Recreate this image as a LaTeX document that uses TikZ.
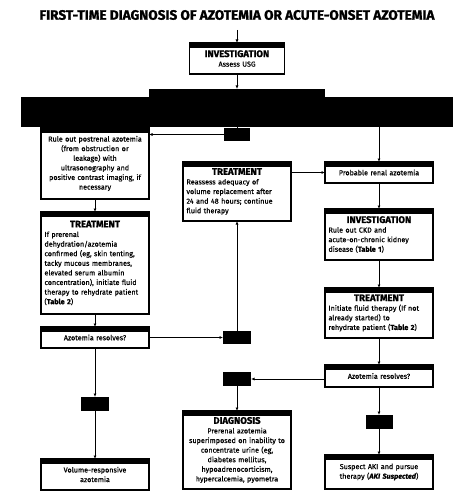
\documentclass[tikz,border=0pt]{standalone}
\usepackage{fontspec}
\setmainfont{Fira Sans}[FakeBold=0.6, BoldFeatures={FakeBold=1.2}]
\usepackage{tikz}
\usetikzlibrary{arrows.meta, positioning}

\newcommand{\boxhead}[1]{{\centering\fontsize{9.5}{11.5}\selectfont\bfseries #1\par}}

\begin{document}
\begin{tikzpicture}[
    x=1pt, y=-1pt,
    node distance=13pt,
    box/.style={rectangle, draw=black, line width=1.1pt, fill=white, outer sep=0pt, inner sep=3pt, text width=101pt, minimum width=108pt, align=center, font=\fontsize{7.2}{9.6}\selectfont,
        path picture={\fill[black] (path picture bounding box.north west) rectangle ([yshift=-5pt]path picture bounding box.north east);}},
    lbox/.style={box, align=left},
    gate/.style={rectangle, fill=black, inner sep=0pt, outer sep=0pt, minimum width=27pt, minimum height=13.5pt},
    bar/.style={rectangle, fill=black, inner sep=0pt, outer sep=0pt},
    arrow/.style={-{Latex[length=3.5pt,width=3pt]}, line width=0.9pt},
    link/.style={line width=0.9pt}
]
    \useasboundingbox (0,0) rectangle (474,497);

    % Title and top
    \node[font=\fontsize{13.6}{15}\selectfont\bfseries] (title) at (237,15) {FIRST-TIME DIAGNOSIS OF AZOTEMIA OR ACUTE-ONSET AZOTEMIA};
    \coordinate (start) at (237,30);
    \node[box, minimum width=95pt, text width=88pt, minimum height=31pt] (inv) at (237,58.5) {\boxhead{INVESTIGATION}Assess USG};
    \node[bar, minimum width=176pt, minimum height=8pt] (bartop) at (237,93) {};
    \node[bar, minimum width=432pt, minimum height=30pt] (bar) at (237,112) {};
    \node[gate, minimum width=26pt] (gatetop) at (237,134.5) {};

    % Left column
    \node[box, minimum height=71pt] (ruleout) at (95,163.5) {Rule out postrenal azotemia\\(from obstruction or\\leakage) with\\ultrasonography and\\positive contrast imaging, if\\necessary};
    \node[lbox, minimum height=102pt, below=of ruleout] (treatL) {\boxhead{TREATMENT}If prerenal\\dehydration/azotemia\\confirmed (eg, skin tenting,\\tacky mucous membranes,\\elevated serum albumin\\concentration), initiate fluid\\therapy to rehydrate patient\\(\textbf{Table 2})};
    \node[box, minimum height=21pt, below=of treatL] (resL) {Azotemia resolves?};
    \node[gate, minimum width=28pt, minimum height=14pt, below=49pt of resL] (gateL) {};
    \node[box, minimum height=31pt, below=48pt of gateL] (volresp) {Volume-responsive\\azotemia};

    % Middle column
    \node[lbox, minimum height=59pt] (treatM) at (237,191.5) {\boxhead{TREATMENT}Reassess adequacy of\\volume replacement after\\24 and 48 hours; continue\\fluid therapy};
    \node[gate, minimum width=28pt, minimum height=13pt] (gateM) at (237,337.5) {};
    \node[gate, minimum width=28pt, minimum height=14pt, below=28pt of gateM] (gateD) {};
    \node[box, minimum height=78pt, below=25pt of gateD] (diag) {\boxhead{DIAGNOSIS}Prerenal azotemia\\superimposed on inability to\\concentrate urine (eg,\\diabetes mellitus,\\hypoadrenocorticism,\\hypercalcemia, pyometra};

    % Right column
    \node[box, minimum height=21pt] (probable) at (379,172.5) {Probable renal azotemia};
    \node[lbox, minimum height=51pt, below=26pt of probable] (invR) {\boxhead{INVESTIGATION}Rule out CKD and\\acute-on-chronic kidney\\disease (\textbf{Table 1})};
    \node[lbox, minimum height=50pt, below=28pt of invR] (treatR) {\boxhead{TREATMENT}Initiate fluid therapy (If not\\already started) to\\rehydrate patient (\textbf{Table 2})};
    \node[box, minimum height=22pt, below=27pt of treatR] (resR) {Azotemia resolves?};
    \node[gate, minimum width=27pt, minimum height=14pt, below=28pt of resR] (gateR) {};
    \node[box, minimum height=34pt, below=26pt of gateR] (aki) {Suspect AKI and pursue\\therapy (\textbf{\textit{AKI Suspected}})};

    % Arrows
    \draw[arrow] (start) -- (inv);
    \draw[arrow] (inv) -- (bartop);
    \draw[link] (bar) -- (gatetop);
    \draw[arrow] (gatetop.west) -- (gatetop.west -| ruleout.east);
    \draw[arrow] (probable.north |- bar.south) -- (probable);
    \draw[arrow] (ruleout) -- (treatL);
    \draw[arrow] (treatL) -- (resL);
    \draw[arrow] (resL) -- (gateL);
    \draw[arrow] (gateL) -- (volresp);
    \draw[arrow] (resL) -- (gateM);
    \draw[arrow] (gateM) -- (treatM);
    \draw[arrow] (treatM.east |- probable) -- (probable);
    \draw[arrow] (probable) -- (invR);
    \draw[arrow] (invR) -- (treatR);
    \draw[arrow] (treatR) -- (resR);
    \draw[arrow] (resR.west |- gateD) -- (gateD);
    \draw[arrow] (gateD) -- (diag);
    \draw[arrow] (resR) -- (gateR);
    \draw[arrow] (gateR) -- (aki);

\end{tikzpicture}
\end{document}
